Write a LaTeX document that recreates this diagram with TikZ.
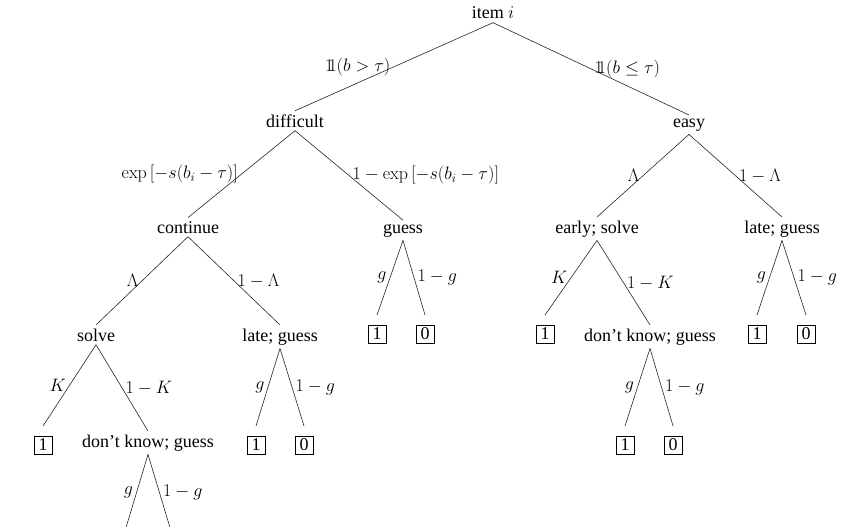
\RequirePackage{fix-cm}
\documentclass[tikz,border=0pt]{standalone}
\usepackage[no-math]{fontspec}
\setmainfont{Liberation Serif}
\newcommand{\indic}{\mathrm{1}\mkern-5mu\mathrm{1}}
\begin{document}
\begin{tikzpicture}[x=1pt,y=-1pt,
  every node/.style={font=\fontsize{18}{22}\selectfont},
  tn/.style={anchor=base},
  leaf/.style={draw, line width=0.6pt, inner xsep=4.5pt, inner ysep=3pt, outer sep=10pt, anchor=center},
  br/.style={line width=0.6pt, draw=black!85},
  ll/.style={midway, left},
  rl/.style={midway, right}]
\clip (0,0) rectangle (849,527);
% level 0
\node[tn] (root) at (493,19) {item $i$};
% level 1
\node[tn] (dif) at (295,127) {difficult};
\node[tn] (easy) at (689,127) {easy};
% level 2
\node[tn] (cont) at (188,233) {continue};
\node[tn] (gs) at (403,233) {guess};
\node[tn] (es) at (597,233) {early; solve};
\node[tn] (lgR) at (782,233) {late; guess};
% level 3
\node[tn] (solve) at (96,341) {solve};
\node[tn] (lgL) at (280,341) {late; guess};
\node[leaf] (g1) at (377,334) {1};
\node[leaf] (g0) at (425,334) {0};
\node[leaf] (e1) at (545,334) {1};
\node[tn] (dkR) at (650,341) {don’t know; guess};
\node[leaf] (r1) at (757,334) {1};
\node[leaf] (r0) at (806,334) {0};
% level 4
\node[leaf] (s1) at (43,445) {1};
\node[tn] (dkL) at (148,447) {don’t know; guess};
\node[leaf] (l1) at (256,445) {1};
\node[leaf] (l0) at (304,445) {0};
\node[leaf] (d1) at (625,445) {1};
\node[leaf] (d0) at (673,445) {0};
\coordinate (cA) at (125,531);
\coordinate (cB) at (171,531);
% edges
\draw[br] (root.south) -- (dif.north) node[ll] {$\indic(b>\tau)$};
\draw[br] (root.south) -- (easy.north) node[rl] {$\indic(b\leq\tau)$};
\draw[br] (dif.south) -- (cont.north) node[ll] {$\exp\left[-s(b_i-\tau)\right]$};
\draw[br] (dif.south) -- (gs.north) node[rl] {$1-\exp\left[-s(b_i-\tau)\right]$};
\draw[br] (easy.south) -- (es.north) node[ll] {$\Lambda$};
\draw[br] (easy.south) -- (lgR.north) node[rl] {$1-\Lambda$};
\draw[br] (cont.south) -- (solve.north) node[ll] {$\Lambda$};
\draw[br] (cont.south) -- (lgL.north) node[rl] {$1-\Lambda$};
\draw[br] (gs.south) -- (g1.north) node[ll] {$g$};
\draw[br] (gs.south) -- (g0.north) node[rl] {$1-g$};
\draw[br] (es.south) -- (e1.north) node[ll] {$K$};
\draw[br] (es.south) -- (dkR.north) node[rl] {$1-K$};
\draw[br] (lgR.south) -- (r1.north) node[ll] {$g$};
\draw[br] (lgR.south) -- (r0.north) node[rl] {$1-g$};
\draw[br] (solve.south) -- (s1.north) node[ll] {$K$};
\draw[br] (solve.south) -- (dkL.north) node[rl] {$1-K$};
\draw[br] (lgL.south) -- (l1.north) node[ll] {$g$};
\draw[br] (lgL.south) -- (l0.north) node[rl] {$1-g$};
\draw[br] (dkR.south) -- (d1.north) node[ll] {$g$};
\draw[br] (dkR.south) -- (d0.north) node[rl] {$1-g$};
\draw[br] (dkL.south) -- (cA) node[ll] {$g$};
\draw[br] (dkL.south) -- (cB) node[rl] {$1-g$};
\end{tikzpicture}
\end{document}
